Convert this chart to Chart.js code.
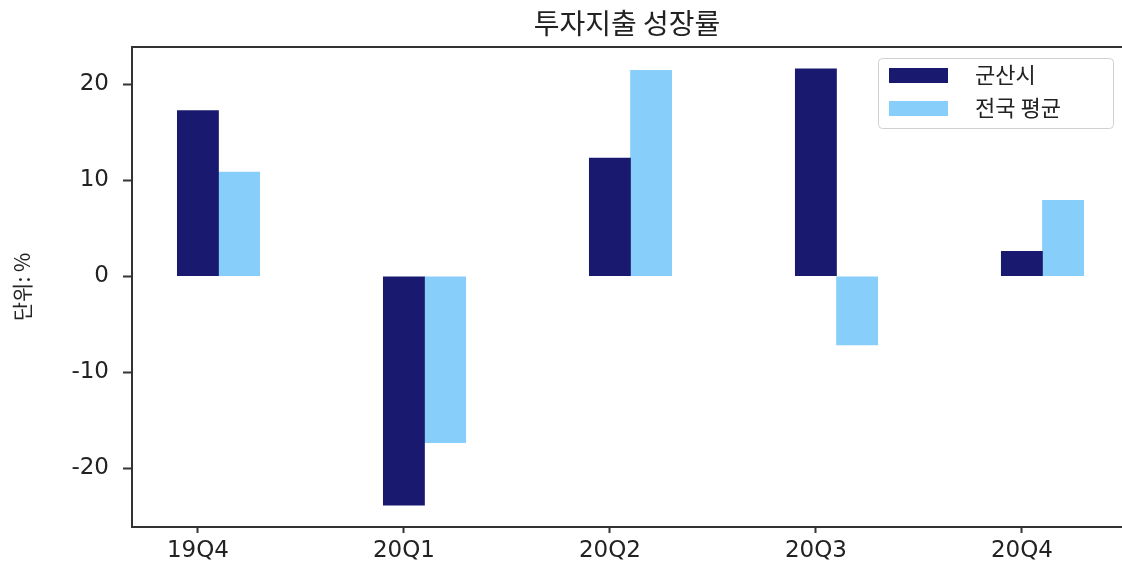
<!DOCTYPE html>
<html>
<head>
<meta charset="utf-8">
<script src="https://cdn.jsdelivr.net/npm/chart.js@4.4.1/dist/chart.umd.min.js"></script>
<style>
  html, body { margin: 0; padding: 0; background: #fff; overflow: hidden; }
  #wrap { width: 1122px; height: 564px; }
</style>
</head>
<body>
<div id="wrap"><canvas id="c" width="1122" height="564"></canvas></div>
<script>
const categories = ['19Q4', '20Q1', '20Q2', '20Q3', '20Q4'];
const gunsan = [17.26, -23.83, 12.3, 21.6, 2.6];
const national = [10.85, -17.32, 21.45, -7.15, 7.9];
const seriesNames = ['군산시', '전국 평균'];
const yTicks = [-20, -10, 0, 10, 20];
const chartTitle = '투자지출 성장률';
const yTitle = '단위: %';

const BAR_W = 0.2;
const colors = ['#191970', '#87CEFA'];

const legendPlugin = {
  id: 'boxLegend',
  afterDatasetsDraw(chart) {
    const ctx = chart.ctx;
    const ca = chart.chartArea;
    const bx = ca.right - 244, by = ca.top + 11, bw = 235, bh = 70;
    ctx.save();
    ctx.fillStyle = 'rgba(255,255,255,0.85)';
    ctx.strokeStyle = '#d0d0d0';
    ctx.lineWidth = 1;
    ctx.beginPath();
    ctx.roundRect(bx + 0.5, by + 0.5, bw, bh, 4);
    ctx.fill();
    ctx.stroke();
    ctx.font = '22px "Noto Sans CJK KR", sans-serif';
    ctx.textBaseline = 'middle';
    ctx.textAlign = 'left';
    chart.data.datasets.forEach((ds, i) => {
      const ry = by + 17 + i * 33;
      ctx.fillStyle = ds.backgroundColor;
      ctx.fillRect(bx + 11, ry - 7, 59, 15);
      ctx.fillStyle = '#222';
      ctx.fillText(ds.label, bx + 97, ry);
    });
    ctx.restore();
  }
};

const topSpine = {
  id: 'topSpine',
  afterDraw(chart) {
    const ctx = chart.ctx, ca = chart.chartArea;
    ctx.save();
    ctx.strokeStyle = '#333';
    ctx.lineWidth = 2;
    ctx.beginPath();
    ctx.moveTo(ca.left, ca.top);
    ctx.lineTo(chart.width, ca.top);
    ctx.stroke();
    ctx.restore();
  }
};

new Chart(document.getElementById('c'), {
  type: 'bar',
  data: {
    datasets: [
      { label: seriesNames[0], data: gunsan.map((v, i) => ({ x: i, y: v })), backgroundColor: colors[0] },
      { label: seriesNames[1], data: national.map((v, i) => ({ x: i + BAR_W, y: v })), backgroundColor: colors[1] }
    ]
  },
  options: {
    responsive: false,
    animation: false,
    devicePixelRatio: 1,
    layout: { padding: 0 },
    datasets: { bar: { grouped: false, barPercentage: 1, categoryPercentage: 1 } },
    plugins: {
      legend: { display: false },
      tooltip: { enabled: false },
      title: {
        display: true,
        text: chartTitle,
        fullSize: false,
        color: '#222',
        font: { family: '"Noto Sans CJK KR", sans-serif', size: 28, weight: 'normal', lineHeight: 1.2 },
        padding: { top: 7, bottom: 6.4 }
      }
    },
    scales: {
      x: {
        type: 'linear',
        offset: false,
        min: -0.32,
        max: 4.486,
        afterBuildTicks: s => { s.ticks = categories.map((_, i) => ({ value: i })); },
        afterFit: s => { s.height = 37; },
        ticks: {
          callback: v => categories[v],
          color: '#222',
          font: { family: '"DejaVu Sans", sans-serif', size: 23 },
          padding: 4,
          maxRotation: 0,
          autoSkip: false
        },
        grid: { offset: false, drawOnChartArea: false, drawTicks: true, tickLength: 6, color: '#333', tickWidth: 2 },
        border: { display: true, color: '#333', width: 2 }
      },
      y: {
        min: -26.1,
        max: 23.87,
        afterBuildTicks: s => { s.ticks = yTicks.map(v => ({ value: v })); },
        afterFit: s => { s.width = 132; },
        ticks: {
          color: '#222',
          font: { family: '"DejaVu Sans", sans-serif', size: 23 },
          padding: 14
        },
        grid: { drawOnChartArea: false, drawTicks: true, tickLength: 9, color: '#333', tickWidth: 2 },
        border: { display: true, color: '#333', width: 2 },
        title: {
          display: true,
          text: yTitle,
          color: '#222',
          font: { family: '"Noto Sans CJK KR", sans-serif', size: 21, lineHeight: 1.2 },
          padding: { top: 9, bottom: 0 }
        }
      }
    }
  },
  plugins: [legendPlugin, topSpine]
});
</script>
</body>
</html>
